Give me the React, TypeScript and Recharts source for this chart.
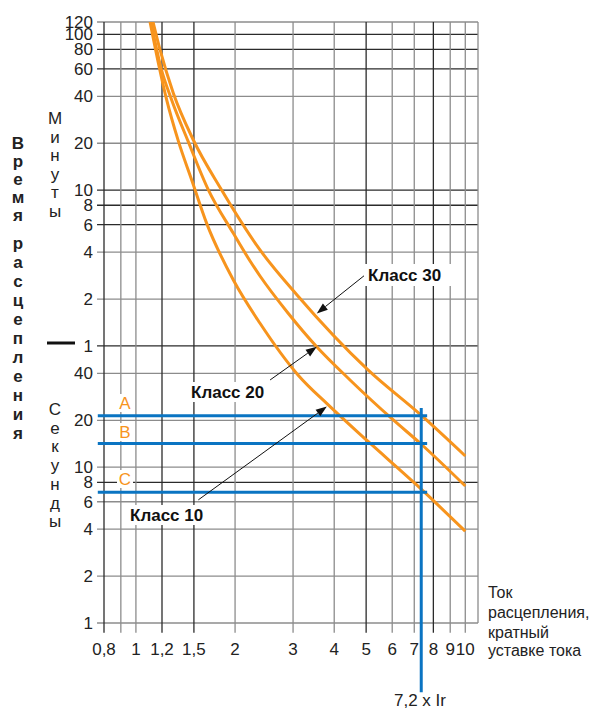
import { ComposedChart, Line, XAxis, YAxis, ReferenceLine } from 'recharts'

// x: multiple of current setting, y: trip time in seconds
const xTicks = [0.8, 0.9, 1, 1.2, 1.5, 2, 3, 4, 5, 6, 7, 8, 9, 10]
const xTickLabels = ['0,8', '', '1', '1,2', '1,5', '2', '3', '4', '5', '6', '7', '8', '9', '10']
const yTicks = [1, 2, 4, 6, 8, 10, 20, 40, 60, 120, 240, 360, 480, 600, 1200, 2400, 3600, 4800, 6000, 7200]
const yTickLabels = ['1', '2', '4', '6', '8', '10', '20', '40', '1', '2', '4', '6', '8', '10', '20', '40', '60', '80', '100', '120']

const class10 = [
  { x: 1.104, y: 7200 }, { x: 1.175, y: 3758 }, { x: 1.24, y: 2275 }, { x: 1.347, y: 1228 },
  { x: 1.477, y: 697 }, { x: 1.64, y: 367 }, { x: 1.976, y: 159 }, { x: 2.381, y: 83.9 },
  { x: 3.105, y: 39.1 }, { x: 3.837, y: 25.1 }, { x: 5.019, y: 14.9 }, { x: 7.119, y: 7.69 },
  { x: 10, y: 3.88 },
]
const class20 = [
  { x: 1.111, y: 7200 }, { x: 1.192, y: 3648 }, { x: 1.284, y: 2275 }, { x: 1.442, y: 1228 },
  { x: 1.655, y: 610 }, { x: 1.976, y: 317 }, { x: 2.221, y: 210.6 }, { x: 2.381, y: 168.7 },
  { x: 2.895, y: 97.7 }, { x: 3.539, y: 59.3 }, { x: 4.467, y: 36.3 }, { x: 6.045, y: 20.1 },
  { x: 7.338, y: 14.09 }, { x: 10, y: 7.57 },
]
const class30 = [
  { x: 1.127, y: 7200 }, { x: 1.184, y: 4763 }, { x: 1.299, y: 2511 }, { x: 1.494, y: 1259 },
  { x: 1.813, y: 610 }, { x: 2.381, y: 248 }, { x: 3.084, y: 127.4 }, { x: 5.065, y: 42.1 },
  { x: 7.373, y: 21.4 }, { x: 10, y: 11.8 },
]

// reading levels A, B, C and the 7,2 x Ir setting
const levelNames = ['A', 'B', 'C']
const levelTimes = [21.4, 14.2, 6.9]
const settingX = 7.35

const X_MIN = 0.8
const X_MAX = 10.93
const Y_MIN = 1
const Y_MAX = 7200

const ORANGE = '#f7941d'
const BLUE = '#0a74c2'
const DARK = '#2b2b2b'
const GRAY = '#8c8c8c'
const FONT = '"Liberation Sans", Arial, Helvetica, sans-serif'

const darkX = [0.8, 1.2, 1.5, 5, 8]
const darkY = [8, 60, 360, 480, 600, 3600, 4800, 6000]

function XTick({ x, y, payload }: any) {
  const i = xTicks.indexOf(payload.value)
  return (
    <text x={x} y={y} dy={17} textAnchor="middle" fontFamily={FONT} fontSize={17} fill="#222">
      {xTickLabels[i]}
    </text>
  )
}

function YTick({ x, y, payload }: any) {
  const i = yTicks.indexOf(payload.value)
  return (
    <text x={x} y={y} dy={6} textAnchor="end" fontFamily={FONT} fontSize={17} fill="#222">
      {yTickLabels[i]}
    </text>
  )
}

function Arrow(props: any) {
  const { x1, y1, x2, y2 } = props
  const a = Math.atan2(y2 - y1, x2 - x1)
  const L = 11, W = 4
  const bx = x2 - L * Math.cos(a), by = y2 - L * Math.sin(a)
  const px = -Math.sin(a) * W, py = Math.cos(a) * W
  return (
    <g>
      <line x1={x1} y1={y1} x2={bx} y2={by} stroke="#111" strokeWidth={1} />
      <polygon points={`${x2},${y2} ${bx + px},${by + py} ${bx - px},${by - py}`} fill="#111" />
    </g>
  )
}

const bold = (txt: string, x: number, y: number) => (
  <text x={x} y={y} textAnchor="start" fontFamily={FONT} fontSize={17} fontWeight="bold" fill="#111">{txt}</text>
)

function Stack({ text, x, y0, step, weight }: { text: string; x: number; y0: number; step: number; weight?: string }) {
  return (
    <>
      {text.split('').map((ch, i) => (
        <text key={i} x={x} y={y0 + i * step} dy={6} textAnchor="middle" fontFamily={FONT}
          fontSize={17} fontWeight={weight ?? 'normal'} fill="#222">{ch}</text>
      ))}
    </>
  )
}

const levelLabelY = [403, 432, 479]

export default function App() {
  return (
    <div style={{ position: 'absolute', left: 0, top: 0, width: 590, height: 709, background: '#fff' }}>
      <ComposedChart width={590} height={709} margin={{ top: 22, right: 112, bottom: 46, left: 0 }}>
        <XAxis
          type="number" dataKey="x" scale="log" domain={[X_MIN, X_MAX]} allowDataOverflow
          ticks={xTicks} interval={0} height={40} tickSize={0} tickMargin={15}
          axisLine={false} tickLine={false} tick={<XTick />}
        />
        <YAxis
          type="number" dataKey="y" scale="log" domain={[Y_MIN, Y_MAX]} allowDataOverflow
          ticks={yTicks} interval={0} width={104} tickSize={0} tickMargin={11}
          axisLine={false} tickLine={false} tick={<YTick />}
        />
        {yTicks.map(v => (
          <ReferenceLine key={'h' + v} segment={[{ x: 0.762, y: v }, { x: X_MAX, y: v }]} ifOverflow="visible"
            stroke={darkY.includes(v) ? DARK : GRAY} strokeWidth={1.3} />
        ))}
        {xTicks.map(v => (
          <ReferenceLine key={'v' + v} segment={[{ x: v, y: 0.866 }, { x: v, y: Y_MAX }]} ifOverflow="visible"
            stroke={darkX.includes(v) ? DARK : GRAY} strokeWidth={1.3} />
        ))}
        <ReferenceLine segment={[{ x: X_MAX, y: Y_MIN }, { x: X_MAX, y: Y_MAX }]} ifOverflow="visible" stroke={GRAY} strokeWidth={1.3} />

        <Line data={class10} dataKey="y" type="monotone" stroke={ORANGE} strokeWidth={3} dot={false} isAnimationActive={false} />
        <Line data={class20} dataKey="y" type="monotone" stroke={ORANGE} strokeWidth={3} dot={false} isAnimationActive={false} />
        <Line data={class30} dataKey="y" type="monotone" stroke={ORANGE} strokeWidth={3} dot={false} isAnimationActive={false} />

        {levelTimes.map(t => (
          <ReferenceLine key={'l' + t} segment={[{ x: 0.766, y: t }, { x: 7.66, y: t }]} ifOverflow="visible"
            stroke={BLUE} strokeWidth={3} />
        ))}
        <ReferenceLine segment={[{ x: settingX, y: 24 }, { x: settingX, y: 0.36 }]} ifOverflow="visible" stroke={BLUE} strokeWidth={3} />

        <ReferenceLine segment={[{ x: 5.025, y: 175 }, { x: 3.541, y: 97 }]} ifOverflow="visible" shape={Arrow} />
        <ReferenceLine segment={[{ x: 2.555, y: 36.3 }, { x: 3.541, y: 59.3 }]} ifOverflow="visible" shape={Arrow} />
        <ReferenceLine segment={[{ x: 1.547, y: 6.17 }, { x: 3.799, y: 24.5 }]} ifOverflow="visible" shape={Arrow} />
      </ComposedChart>

      <svg width={590} height={709} style={{ position: 'absolute', left: 0, top: 0, pointerEvents: 'none' }}>
        <rect x={364} y={264} width={90} height={22} fill="#fff" />
        <rect x={188} y={382} width={88} height={20} fill="#fff" />
        <rect x={126} y={505} width={88} height={20} fill="#fff" />
        {bold('Класс 30', 368, 281)}
        {bold('Класс 20', 191, 398)}
        {bold('Класс 10', 130, 521)}

        {levelNames.map((n, i) => (
          <g key={n}>
            <rect x={117} y={levelLabelY[i] - 9} width={16} height={18} fill="#fff" />
            <text x={125} y={levelLabelY[i]} dy={6} textAnchor="middle" fontFamily={FONT} fontSize={17} fill={ORANGE}>{n}</text>
          </g>
        ))}

        <Stack text="Время" x={18} y0={143} step={18} weight="bold" />
        <Stack text="расцепления" x={18} y0={243} step={19} weight="bold" />
        <Stack text="Минуты" x={55} y0={118} step={18.6} />
        <Stack text="Секунды" x={55} y0={409} step={18.7} />
        <line x1={47} x2={75} y1={343} y2={343} stroke="#111" strokeWidth={3} />

        <g fontFamily={FONT} fontSize={16} fill="#222">
          <text x={488} y={598}>Ток</text>
          <text x={488} y={618}>расцепления,</text>
          <text x={488} y={638}>кратный</text>
          <text x={488} y={656}>уставке тока</text>
        </g>
        <text x={420} y={706} textAnchor="middle" fontFamily={FONT} fontSize={17} fill="#222">7,2 x Ir</text>
      </svg>
    </div>
  )
}
